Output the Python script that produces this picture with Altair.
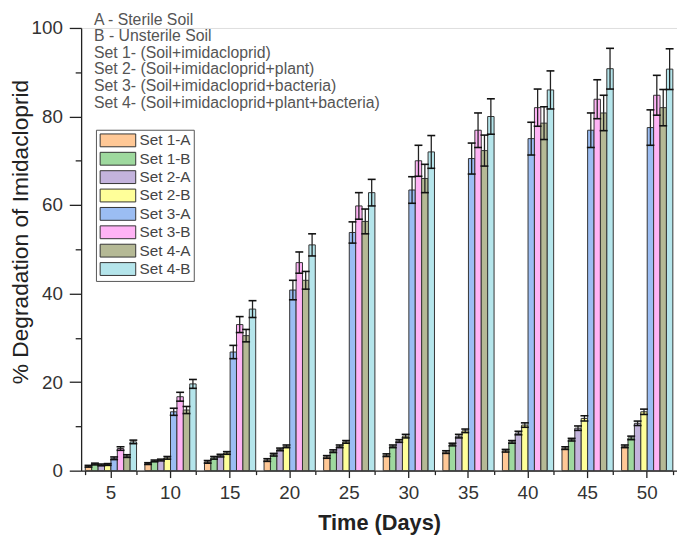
import altair as alt
import pandas as pd

days = [5, 10, 15, 20, 25, 30, 35, 40, 45, 50]
sets = ["Set 1-A", "Set 1-B", "Set 2-A", "Set 2-B", "Set 3-A", "Set 3-B", "Set 4-A", "Set 4-B"]
colors = ["#FFC896", "#9ED99E", "#C3B3DC", "#FFFF99", "#9BBDF3", "#FFB3F5", "#B5B995", "#B5E5EB"]

set1a = [1.0, 1.6, 2.0, 2.4, 3.1, 3.5, 4.2, 4.5, 5.1, 5.5]
set1b = [1.5, 2.2, 2.9, 3.6, 4.4, 5.5, 5.9, 6.5, 7.0, 7.4]
set2a = [1.3, 2.4, 3.4, 4.8, 5.5, 6.7, 7.8, 8.5, 9.6, 10.7]
set2b = [1.4, 2.9, 4.0, 5.5, 6.5, 7.8, 9.0, 10.3, 11.8, 13.3]
set3a = [2.8, 13.3, 26.8, 40.8, 53.8, 63.4, 70.5, 75.0, 76.9, 77.5]
set3b = [5.0, 16.7, 33.0, 47.0, 59.8, 70.0, 76.9, 82.0, 83.9, 84.8]
set4a = [3.3, 13.7, 30.5, 43.0, 56.3, 66.0, 72.3, 78.5, 80.8, 82.0]
set4b = [6.5, 19.6, 36.5, 51.0, 62.8, 72.0, 80.0, 86.0, 90.8, 90.7]

err1a = [0.2, 0.2, 0.3, 0.3, 0.3, 0.3, 0.3, 0.3, 0.3, 0.3]
err1b = [0.2, 0.2, 0.3, 0.3, 0.3, 0.3, 0.3, 0.3, 0.3, 0.4]
err2a = [0.2, 0.2, 0.3, 0.3, 0.3, 0.3, 0.4, 0.4, 0.5, 0.5]
err2b = [0.2, 0.3, 0.3, 0.3, 0.3, 0.4, 0.4, 0.5, 0.6, 0.6]
err3a = [0.3, 0.8, 1.5, 2.2, 2.4, 3.0, 3.5, 3.7, 3.9, 4.0]
err3b = [0.4, 1.0, 1.8, 2.4, 3.0, 3.5, 3.9, 4.2, 4.4, 4.5]
err4a = [0.3, 0.8, 1.4, 2.0, 2.8, 3.2, 3.5, 3.7, 4.0, 4.1]
err4b = [0.4, 1.0, 1.9, 2.5, 3.0, 3.7, 4.0, 4.3, 4.6, 4.6]

notes = [
    "A - Sterile Soil",
    "B - Unsterile Soil",
    "Set 1- (Soil+imidacloprid)",
    "Set 2- (Soil+imidacloprid+plant)",
    "Set 3- (Soil+imidacloprid+bacteria)",
    "Set 4- (Soil+imidacloprid+plant+bacteria)",
]

values = [set1a, set1b, set2a, set2b, set3a, set3b, set4a, set4b]
errors = [err1a, err1b, err2a, err2b, err3a, err3b, err4a, err4b]

rows = []
for s, vals, errs in zip(sets, values, errors):
    for d, v, e in zip(days, vals, errs):
        rows.append({"day": d, "set": s, "value": v, "lo": v - e, "hi": v + e})
df = pd.DataFrame(rows)

FONT = "Liberation Sans"
xscale = alt.Scale(paddingInner=0.14, paddingOuter=0.07)
yscale = alt.Scale(domain=[0, 100], nice=False)
xo = alt.XOffset("set:N", sort=sets, scale=alt.Scale(paddingInner=0, paddingOuter=0))

color = alt.Color(
    "set:N", sort=sets,
    scale=alt.Scale(domain=sets, range=colors),
    legend=alt.Legend(
        title=None, orient="none", legendX=15, legendY=103,
        symbolType="M-2.77,-1L2.77,-1L2.77,1L-2.77,1Z", symbolSize=169,
        symbolStrokeColor="#333", symbolStrokeWidth=1, symbolOffset=11.5,
        symbolOpacity=1, labelOffset=14, labelFontSize=15.5, labelColor="#444",
        labelFont=FONT, rowPadding=0.6, padding=3, strokeColor="#555",
        fillColor="white",
    ),
)

base = alt.Chart(df)

bars = base.mark_bar(stroke="#333", strokeWidth=1, opacity=1).encode(
    x=alt.X("day:O", scale=xscale, axis=alt.Axis(
        orient="bottom", title="Time (Days)", labelAngle=0, tickSize=7, labelPadding=6,
        labelFontSize=19, labelColor="#333", labelFont=FONT,
        titleFontSize=22, titleFont=FONT, titleFontWeight="bold", titleColor="#222",
        titleY=53, titleBaseline="middle",
        domainColor="#222", domainWidth=1.3, tickColor="#222", tickWidth=1.3)),
    xOffset=xo,
    y=alt.Y("value:Q", scale=yscale, axis=alt.Axis(
        orient="left", values=[0, 20, 40, 60, 80, 100], title="% Degradation of Imidacloprid",
        grid=False, tickSize=12, labelPadding=7, labelFontSize=19, labelColor="#333",
        labelFont=FONT, titleFontSize=23, titleFont=FONT, titleFontWeight="normal",
        titleColor="#222", titleX=-61, titleY=206, titleAngle=270,
        titleBaseline="middle", titleAlign="center",
        domainColor="#222", domainWidth=1.3, tickColor="#222", tickWidth=1.3)),
    color=color,
)

rules = base.mark_rule(color="#222", strokeWidth=1.3).encode(
    x=alt.X("day:O", scale=xscale, axis=alt.Axis(
        orient="bottom", tickBand="extent", labels=False, domain=False, tickSize=4,
        title=None, tickColor="#222", tickWidth=1.3)),
    xOffset=xo,
    y=alt.Y("lo:Q", scale=yscale, axis=alt.Axis(
        orient="left", values=[10, 30, 50, 70, 90], labels=False, domain=False,
        tickSize=6, title=None, grid=False, tickColor="#222", tickWidth=1.3)),
    y2="hi:Q",
)

caps_lo = base.mark_tick(color="#111", size=8, thickness=1.6, opacity=1).encode(
    x=alt.X("day:O", scale=xscale, axis=None),
    xOffset=xo,
    y=alt.Y("lo:Q", scale=yscale, axis=None),
)
caps_hi = base.mark_tick(color="#111", size=8, thickness=1.6, opacity=1).encode(
    x=alt.X("day:O", scale=xscale, axis=None),
    xOffset=xo,
    y=alt.Y("hi:Q", scale=yscale, axis=None),
)

note = alt.Chart(pd.DataFrame({"k": [0]})).mark_text(
    text=notes, align="left", baseline="top", lineHeight=16.8,
    fontSize=16, color="#555", font=FONT,
).encode(x=alt.value(13), y=alt.value(-16.5))

chart = alt.layer(bars, rules, caps_lo, caps_hi, note).resolve_axis(
    x="independent", y="independent"
).properties(
    width=603, height=448,
    autosize=alt.AutoSizeParams(type="none"),
    padding={"left": 74, "top": 17, "right": 0, "bottom": 70},
).configure_view(stroke=None).configure(background="white")

chart.save("out.html", embed_options={"renderer": "svg", "actions": False})
